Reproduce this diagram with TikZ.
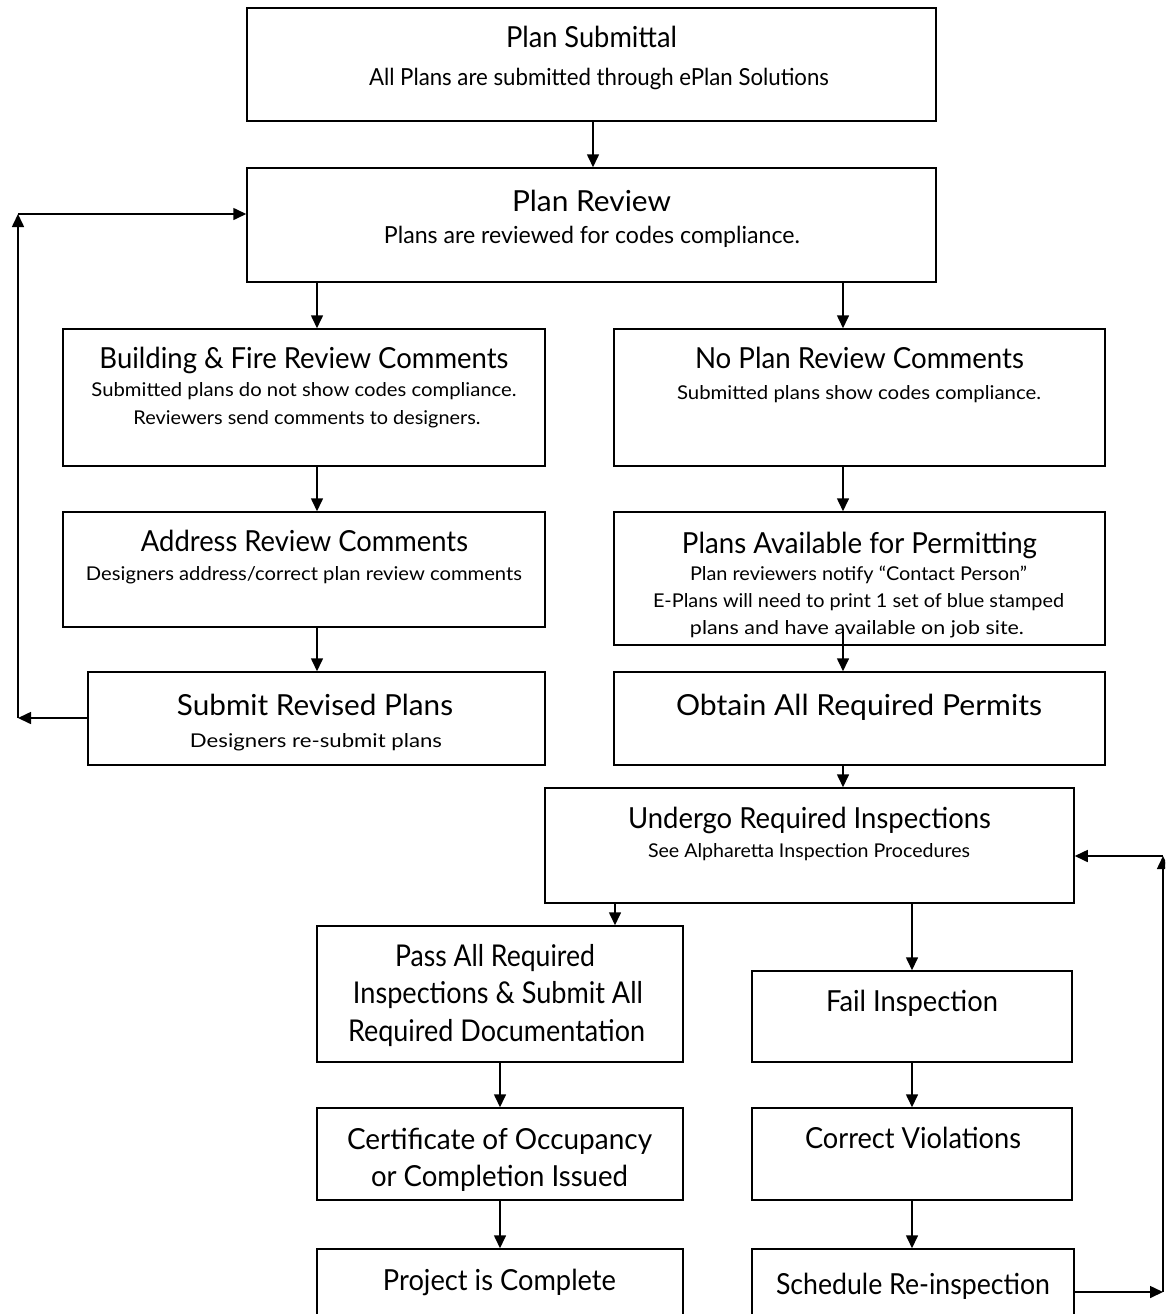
\documentclass[tikz,border=0pt]{standalone}
\usepackage{fontspec}
\setmainfont{Lato}
\usepackage{graphicx}
\usetikzlibrary{arrows.meta,calc}
\newcommand\fw[2]{\resizebox{#1pt}{\height}{#2}}
\begin{document}
\begin{tikzpicture}[x=1pt,y=-1pt,
 box/.style={draw, line width=1.5pt, inner sep=0pt},
 arr/.style={line width=1.6pt, -{Triangle[length=13pt,width=12pt]}},
 ttl/.style={anchor=base, inner sep=0pt, font=\fontsize{29}{32}\selectfont},
 big/.style={anchor=base, inner sep=0pt, font=\fontsize{30}{33}\selectfont},
 sub/.style={anchor=base, inner sep=0pt, font=\fontsize{19}{22}\selectfont},
 subl/.style={anchor=base, inner sep=0pt, font=\fontsize{23.5}{26}\selectfont}]
\useasboundingbox (0,0) rectangle (1165,1314);
\clip (0,0) rectangle (1165,1314);

% boxes
\node[box, minimum width=689pt, minimum height=113pt] (ps) at (591.5,64.5) {};
\node[box, minimum width=689pt, minimum height=114pt] (pr) at (591.5,225) {};
\node[box, minimum width=482pt, minimum height=137pt] (bf) at (304,397.5) {};
\node[box, minimum width=491pt, minimum height=137pt] (npr) at (859.5,397.5) {};
\node[box, minimum width=482pt, minimum height=115pt] (arc) at (304,569.5) {};
\node[box, minimum width=491pt, minimum height=133pt] (pap) at (859.5,578.5) {};
\node[box, minimum width=457pt, minimum height=93pt] (srp) at (316.5,718.5) {};
\node[box, minimum width=491pt, minimum height=93pt] (oarp) at (859.5,718.5) {};
\node[box, minimum width=529pt, minimum height=115pt] (und) at (809.5,845.5) {};
\node[box, minimum width=366pt, minimum height=136pt] (pass) at (500,994) {};
\node[box, minimum width=320pt, minimum height=91pt] (fail) at (912,1016.5) {};
\node[box, minimum width=366pt, minimum height=92pt] (cert) at (500,1154) {};
\node[box, minimum width=320pt, minimum height=92pt] (corr) at (912,1154) {};
\node[box, minimum width=366pt, minimum height=92pt] (proj) at (500,1295) {};
\node[box, minimum width=322pt, minimum height=92pt] (sched) at (913,1295) {};

% texts
\node[ttl] (psT) at (591.5,47) {\fw{171}{Plan Submittal}};
\node[subl] (psS) at (599,85) {\fw{460}{All Plans are submitted through ePlan Solutions}};
\node[ttl] (prT) at (591.5,211) {\fw{159}{Plan Review}};
\node[subl] (prS) at (592,243) {\fw{416}{Plans are reviewed for codes compliance.}};
\node[ttl] (bfT) at (304,368) {\fw{409}{Building \& Fire Review Comments}};
\node[sub] (bfS1) at (304,396) {\fw{425}{Submitted plans do not show codes compliance.}};
\node[sub] (bfS2) at (307,424) {\fw{347}{Reviewers send comments to designers.}};
\node[ttl] (nprT) at (859.5,368) {\fw{329}{No Plan Review Comments}};
\node[sub] (nprS) at (859,399) {\fw{364}{Submitted plans show codes compliance.}};
\node[ttl] (arcT) at (304.5,551) {\fw{327}{Address Review Comments}};
\node[sub] (arcS) at (304,580) {\fw{436}{Designers address/correct plan review comments}};
\node[ttl] (papT) at (859.5,553) {\fw{355}{Plans Available for Permitting}};
\node[sub] (papS1) at (858.5,580) {\fw{337}{Plan reviewers notify “Contact Person”}};
\node[sub] (papS2) at (858.5,607) {\fw{411}{E-Plans will need to print 1 set of blue stamped}};
\node[sub] (papS3) at (857,634) {\fw{334}{plans and have available on job site.}};
\node[ttl] (srpT) at (315,715) {\fw{276}{Submit Revised Plans}};
\node[sub] (srpS) at (316,747) {\fw{252}{Designers re-submit plans}};
\node[ttl] (oarpT) at (859,715) {\fw{366}{Obtain All Required Permits}};
\node[ttl] (undT) at (809.5,828) {\fw{363}{Undergo Required Inspections}};
\node[sub] (undS) at (809,857) {\fw{322}{See Alpharetta Inspection Procedures}};
\node[big] (passT1) at (495,966) {\fw{200}{Pass All Required}};
\node[big] (passT2) at (498,1003) {\fw{290}{Inspections \& Submit All}};
\node[big] (passT3) at (496.5,1041) {\fw{297}{Required Documentation}};
\node[ttl] (failT) at (912,1011) {\fw{172}{Fail Inspection}};
\node[ttl] (certT1) at (499.5,1149) {\fw{305}{Certificate of Occupancy}};
\node[ttl] (certT2) at (499.5,1186) {\fw{257}{or Completion Issued}};
\node[ttl] (corrT) at (913,1148) {\fw{216}{Correct Violations}};
\node[ttl] (projT) at (499.5,1290) {\fw{233}{Project is Complete}};
\node[ttl] (schedT) at (913,1294) {\fw{274}{Schedule Re-inspection}};

% helper coordinates
\coordinate (xL) at (317,0);
\coordinate (xR) at (843,0);
\coordinate (xP) at (615,0);
\coordinate (xF) at (912,0);
\coordinate (xC) at (500,0);
\coordinate (L1) at (18,718);
\coordinate (L2) at (18,214);
\coordinate (R1) at (1163,1292);
\coordinate (R2) at (1163,856);

% connectors
\draw[arr] (ps.south -| 593,0) -- (pr.north -| 593,0);
\draw[arr] (pr.south -| xL) -- (bf.north -| xL);
\draw[arr] (pr.south -| xR) -- (npr.north -| xR);
\draw[arr] (bf.south -| xL) -- (arc.north -| xL);
\draw[arr] (npr.south -| xR) -- (pap.north -| xR);
\draw[arr] (arc.south -| xL) -- (srp.north -| xL);
\draw[arr] ($(pap.south -| xR)+(0,-17)$) -- (oarp.north -| xR);
\draw[arr] (oarp.south -| xR) -- (und.north -| xR);
\draw[arr] (srp.west |- L1) -- (L1);
\draw[arr] (L1) -- (L2);
\draw[arr] (L2) -- (L2 -| pr.west);
\draw[arr] (und.south -| xP) -- (pass.north -| xP);
\draw[arr] (und.south -| xF) -- (fail.north -| xF);
\draw[arr] (pass.south -| xC) -- (cert.north -| xC);
\draw[arr] (cert.south -| xC) -- (proj.north -| xC);
\draw[arr] (fail.south -| xF) -- (corr.north -| xF);
\draw[arr] (corr.south -| xF) -- (sched.north -| xF);
\draw[arr] (R1 -| sched.east) -- (R1);
\draw[arr] (R1) -- (R2);
\draw[arr] (R2) -- (R2 -| und.east);
\end{tikzpicture}
\end{document}
